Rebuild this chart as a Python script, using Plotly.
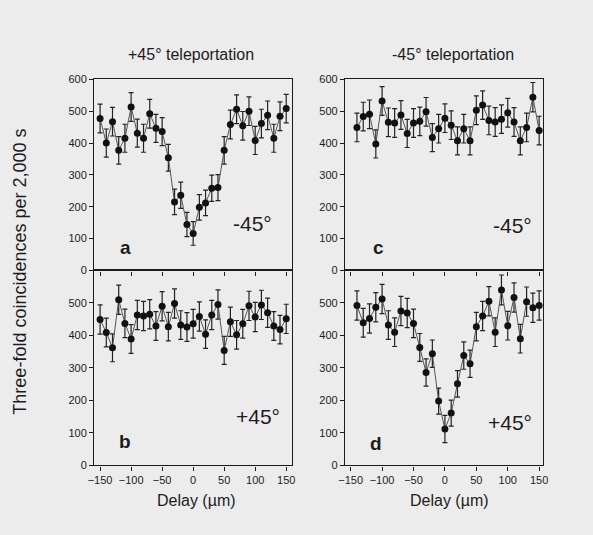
import plotly.graph_objects as go

W, H = 593, 535

# ---------------- data ----------------
delay_left = list(range(-150, 151, 10))    # panels a, b
delay_right = list(range(-140, 151, 10))   # panels c, d

counts_a = [477, 400, 467, 377, 415, 513, 431, 415, 492, 446, 436, 354, 215, 236, 144, 116,
            198, 212, 258, 260, 377, 458, 506, 454, 500, 408, 461, 487, 415, 484, 508]
err_a = [45, 44, 45, 43, 44, 45, 44, 44, 45, 44, 44, 42, 40, 41, 38, 37,
         40, 40, 41, 41, 43, 45, 45, 45, 45, 44, 45, 45, 44, 45, 45]

counts_b = [449, 409, 362, 510, 437, 389, 463, 460, 465, 429, 490, 427, 498, 432, 426, 436,
            458, 404, 463, 495, 354, 442, 402, 436, 491, 457, 494, 470, 429, 418, 451]
err_b = [45, 44, 43, 45, 44, 44, 45, 45, 45, 44, 45, 44, 45, 44, 44, 44,
         45, 44, 45, 45, 43, 45, 44, 44, 45, 45, 45, 45, 44, 44, 45]

counts_c = [449, 483, 490, 397, 532, 465, 463, 488, 430, 463, 468, 498, 417, 445, 478,
            456, 407, 445, 407, 503, 519, 471, 466, 475, 495, 466, 407, 449, 544, 439]
err_c = [45, 45, 45, 44, 45, 45, 45, 45, 44, 45, 45, 45, 44, 45, 45,
         45, 44, 45, 44, 45, 45, 45, 45, 45, 45, 45, 44, 45, 46, 45]

counts_d = [492, 439, 452, 487, 512, 432, 410, 475, 469, 437, 363, 286, 344, 198, 112,
            161, 251, 338, 313, 427, 460, 505, 410, 540, 430, 517, 390, 504, 485, 492]
err_d = [45, 44, 45, 45, 45, 44, 44, 45, 45, 44, 43, 42, 42, 40, 42,
         40, 41, 42, 42, 44, 45, 45, 44, 46, 44, 45, 44, 45, 45, 45]

x_ticks = [-150, -100, -50, 0, 50, 100, 150]
y_ticks_top = [0, 100, 200, 300, 400, 500, 600]
y_ticks_bottom = [0, 100, 200, 300, 400, 500]

# ---------------- layout helpers ----------------
def px(x):
    return x / W

def py(y):
    return 1 - y / H

FONT = "Liberation Sans"
INK = "#1c1c1c"
BG = "#ececec"

left_dom = [px(89), px(291)]
right_dom = [px(345), px(547)]
top_dom = [py(270.5), py(75)]
bot_dom = [py(470), py(270.5)]

fig = go.Figure()

panels = [
    (delay_left, counts_a, err_a, "x", "y"),
    (delay_left, counts_b, err_b, "x2", "y2"),
    (delay_right, counts_c, err_c, "x3", "y3"),
    (delay_right, counts_d, err_d, "x4", "y4"),
]

for xs, ys, es, xa, ya in panels:
    fig.add_trace(go.Scatter(
        x=xs, y=ys, xaxis=xa, yaxis=ya,
        mode="lines+markers",
        line=dict(color="#555555", width=1),
        marker=dict(color="#111111", size=7),
        error_y=dict(type="data", array=es, visible=True,
                     color="#222222", thickness=1.2, width=2.5),
        showlegend=False, hoverinfo="skip",
    ))

def xaxis(dom, rng, anchor, labels):
    return dict(domain=dom, range=rng, anchor=anchor,
                tickvals=x_ticks, showticklabels=labels,
                ticks="outside", ticklen=4, tickwidth=1, tickcolor=INK,
                showline=True, mirror=True, linecolor=INK, linewidth=1.3,
                showgrid=False, zeroline=False,
                tickfont=dict(family=FONT, size=11, color=INK))

def yaxis(dom, anchor, tv):
    return dict(domain=dom, range=[0, 600], anchor=anchor,
                tickvals=tv,
                ticks="outside", ticklen=4, tickwidth=1, tickcolor=INK,
                showline=True, mirror=True, linecolor=INK, linewidth=1.3,
                showgrid=False, zeroline=False,
                tickfont=dict(family=FONT, size=11, color=INK))

L_RANGE = [-159.5, 159.5]
R_RANGE = [-159, 156]

fig.update_layout(
    width=W, height=H,
    margin=dict(l=0, r=0, t=0, b=0),
    paper_bgcolor=BG, plot_bgcolor=BG,
    xaxis=xaxis(left_dom, L_RANGE, "y", False),
    yaxis=yaxis(top_dom, "x", y_ticks_top),
    xaxis2=xaxis(left_dom, L_RANGE, "y2", True),
    yaxis2=yaxis(bot_dom, "x2", y_ticks_bottom),
    xaxis3=xaxis(right_dom, R_RANGE, "y3", False),
    yaxis3=yaxis(top_dom, "x3", y_ticks_top),
    xaxis4=xaxis(right_dom, R_RANGE, "y4", True),
    yaxis4=yaxis(bot_dom, "x4", y_ticks_bottom),
)

def note(text, x, y, size, bold=False, angle=0):
    fig.add_annotation(
        text=f"<b>{text}</b>" if bold else text,
        x=px(x), y=py(y), xref="paper", yref="paper",
        showarrow=False, textangle=angle,
        xanchor="center", yanchor="middle",
        font=dict(family=FONT, size=size, color=INK),
    )

note("+45° teleportation", 188, 50, 16)
note("-45° teleportation", 455, 50, 16)
note("Delay (µm)", 193, 506, 16)
note("Delay (µm)", 452, 506, 16)
note("Three-fold coincidences per 2,000 s", 13, 272, 18, angle=-90)

note("a", 121, 247, 19, bold=True)
note("b", 120, 446, 19, bold=True)
note("c", 379, 247, 19, bold=True)
note("d", 377, 448, 19, bold=True)

note("-45°", 251, 223, 21)
note("+45°", 256, 420, 21)
note("-45°", 516, 225, 21)
note("+45°", 513, 426, 21)

fig.write_html("out.html",
               config={"displayModeBar": False},
               post_script="document.body.style.margin='0';document.body.style.background='#ececec';")
